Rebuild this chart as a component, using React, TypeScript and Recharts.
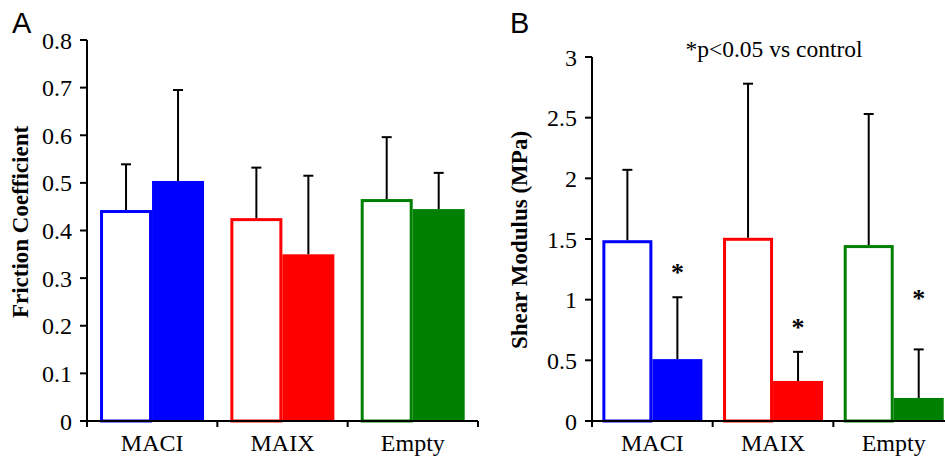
import { BarChart, Bar, XAxis, YAxis } from "recharts";

// groups and colours
const groups = ["MACI", "MAIX", "Empty"];
const groupColors = ["#0000ff", "#ff0000", "#008000"];

// panel A: friction coefficient (mean, +SD)
const frictionControl = [0.443, 0.426, 0.466];
const frictionControlSd = [0.096, 0.106, 0.13];
const frictionTreated = [0.504, 0.35, 0.445];
const frictionTreatedSd = [0.191, 0.165, 0.076];
const frictionTicks = [0, 0.1, 0.2, 0.3, 0.4, 0.5, 0.6, 0.7, 0.8];

// panel B: shear modulus (MPa)
const shearControl = [1.49, 1.51, 1.45];
const shearControlSd = [0.58, 1.27, 1.08];
const shearTreated = [0.51, 0.33, 0.19];
const shearTreatedSd = [0.51, 0.24, 0.4];
const shearStars = [1.25, 0.8, 1.04];
const shearTicks = [0, 0.5, 1, 1.5, 2, 2.5, 3];

const frictionData = groups.map((g, i) => ({
  group: g,
  control: frictionControl[i],
  controlSd: frictionControlSd[i],
  treated: frictionTreated[i],
  treatedSd: frictionTreatedSd[i],
}));

const shearData = groups.map((g, i) => ({
  group: g,
  control: shearControl[i],
  controlSd: shearControlSd[i],
  treated: shearTreated[i],
  treatedSd: shearTreatedSd[i],
  star: shearStars[i],
}));

const serif = "Liberation Serif, Times New Roman, serif";
const sans = "Liberation Sans, Arial, sans-serif";

function makeShape(valueKey: string, sdKey: string, open: boolean, starKey?: string) {
  return (props: any) => {
    const { x, y, width, height, payload } = props;
    const idx = props.index ?? groups.indexOf(payload.group);
    const color = groupColors[idx];
    const v = payload[valueKey];
    const k = v ? height / v : 0;
    const cx = x + width / 2;
    const errTop = y - payload[sdKey] * k;
    return (
      <g>
        {open ? (
          <rect x={x + 1.5} y={y + 1.5} width={width - 3} height={height - 1.5} fill="#fff" stroke={color} strokeWidth={3} />
        ) : (
          <rect x={x} y={y} width={width} height={height} fill={color} />
        )}
        <line x1={cx} x2={cx} y1={y} y2={errTop} stroke="#000" strokeWidth={2} />
        <line x1={cx - 5} x2={cx + 5} y1={errTop} y2={errTop} stroke="#000" strokeWidth={2} />
        {starKey && (
          <text x={cx} y={y + height - payload[starKey] * k + 12} textAnchor="middle" fontSize={26} fontWeight="bold" style={{ fontFamily: serif }} fill="#000">
            *
          </text>
        )}
      </g>
    );
  };
}

// category label plus tick marks at the category boundaries
function CategoryTick(props: any) {
  const { x, y, payload, index } = props;
  const off = payload.offset ?? 0;
  return (
    <g>
      <line x1={x - off} x2={x - off} y1={y} y2={y + 6} stroke="#000" strokeWidth={2} />
      {index === groups.length - 1 && (
        <line x1={x + off} x2={x + off} y1={y} y2={y + 6} stroke="#000" strokeWidth={2} />
      )}
      <text x={x} y={y + 13} dy="0.71em" textAnchor="middle" fontSize={24} style={{ fontFamily: serif }} fill="#000">
        {payload.value}
      </text>
    </g>
  );
}

function ValueTick(props: any) {
  const { x, y, payload } = props;
  return (
    <text x={x} y={y} dy="0.355em" textAnchor="end" fontSize={24} style={{ fontFamily: serif }} fill="#000">
      {payload.value}
    </text>
  );
}

const axisStroke = { stroke: "#000", strokeWidth: 2 };

export default function App() {
  return (
    <div style={{ position: "absolute", left: 0, top: 0, width: 945, height: 457, overflow: "hidden", background: "#fff" }}>
      <div style={{ position: "absolute", left: 0, top: 0 }}>
        <BarChart width={490} height={457} data={frictionData} margin={{ top: 40, right: 12, bottom: 0, left: 0 }} barCategoryGap="10%" barGap={0}>
          <XAxis dataKey="group" height={36} axisLine={axisStroke} tickLine={false} tickSize={0} tickMargin={0} tick={<CategoryTick />} interval={0} />
          <YAxis width={87} domain={[0, 0.8]} ticks={frictionTicks} axisLine={axisStroke} tickLine={axisStroke} tickSize={7} tickMargin={8} tick={<ValueTick />} interval={0} />
          <Bar dataKey="control" isAnimationActive={false} shape={makeShape("control", "controlSd", true)} />
          <Bar dataKey="treated" isAnimationActive={false} shape={makeShape("treated", "treatedSd", false)} />
        </BarChart>
      </div>
      <div style={{ position: "absolute", left: 480, top: 0 }}>
        <BarChart width={480} height={457} data={shearData} margin={{ top: 57, right: 6, bottom: 0, left: 0 }} barCategoryGap="8.6%" barGap={0}>
          <XAxis dataKey="group" height={36} axisLine={axisStroke} tickLine={false} tickSize={0} tickMargin={0} tick={<CategoryTick />} interval={0} />
          <YAxis width={112} domain={[0, 3]} ticks={shearTicks} axisLine={axisStroke} tickLine={axisStroke} tickSize={7} tickMargin={8} tick={<ValueTick />} interval={0} />
          <Bar dataKey="control" isAnimationActive={false} shape={makeShape("control", "controlSd", true)} />
          <Bar dataKey="treated" isAnimationActive={false} shape={makeShape("treated", "treatedSd", false, "star")} />
        </BarChart>
      </div>
      <svg width={945} height={457} style={{ position: "absolute", left: 0, top: 0, pointerEvents: "none" }}>
        <text x={12} y={33} fontSize={29} style={{ fontFamily: sans }} fill="#000">A</text>
        <text x={510} y={33} fontSize={29} style={{ fontFamily: sans }} fill="#000">B</text>
        <text x={28} y={222} transform="rotate(-90 28 222)" textAnchor="middle" fontSize={23} fontWeight="bold" style={{ fontFamily: serif }} fill="#000">
          Friction Coefficient
        </text>
        <text x={527} y={240} transform="rotate(-90 527 240)" textAnchor="middle" fontSize={23} fontWeight="bold" style={{ fontFamily: serif }} fill="#000">
          Shear Modulus (MPa)
        </text>
        <text x={774} y={57} textAnchor="middle" fontSize={23.5} style={{ fontFamily: serif }} fill="#000">
          *p&lt;0.05 vs control
        </text>
      </svg>
    </div>
  );
}
